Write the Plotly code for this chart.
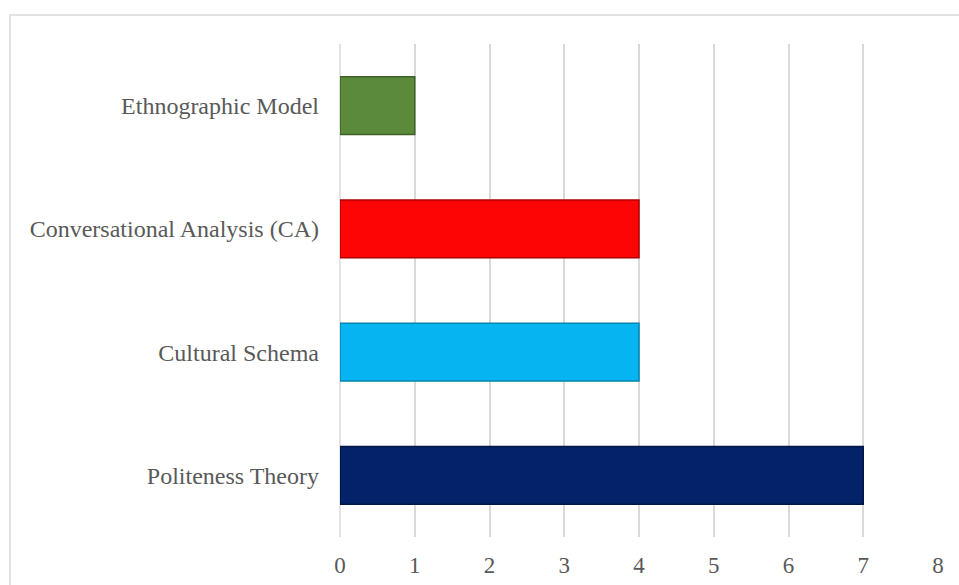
import plotly.graph_objects as go

categories = ["Politeness Theory", "Cultural Schema", "Conversational Analysis (CA)", "Ethnographic Model"]
values = [7, 4, 4, 1]
colors = ["#032268", "#05b4f0", "#fe0505", "#5b8a3a"]
edge_colors = ["#011546", "#0383b0", "#b00000", "#3d6126"]
x_ticks = [0, 1, 2, 3, 4, 5, 6, 7, 8]

fig = go.Figure(go.Bar(
    y=categories, x=values, orientation="h",
    marker=dict(color=colors, line=dict(color=edge_colors, width=1.5)),
    width=0.47,
))

L, R, T, B = 340, 938, 44, 537
W, H = 959, 585
pw, ph = R - L, B - T
def px(x): return (x - L) / pw
def py(y): return (B - y) / ph

fig.update_layout(
    width=W, height=H,
    margin=dict(l=L, r=W - R, t=T, b=H - B, autoexpand=False),
    paper_bgcolor="white", plot_bgcolor="white",
    showlegend=False,
    font=dict(family="Liberation Serif", size=24, color="#595959"),
    xaxis=dict(range=[0, 8], tickvals=x_ticks, showgrid=True, gridcolor="#d9d9d9",
               gridwidth=1.5, zeroline=False, showline=False, ticks="", automargin=False,
               ticklabelstandoff=12, tickfont=dict(size=23, color="#595959")),
    yaxis=dict(showgrid=False, zeroline=False, showline=False, ticks="", automargin=False,
               ticklabelstandoff=20, tickfont=dict(size=24, color="#595959")),
    shapes=[dict(type="line", xref="paper", yref="paper", x0=0, x1=0, y0=0, y1=1,
                 line=dict(color="#d9d9d9", width=1.5), layer="below"),
            dict(type="rect", xref="paper", yref="paper",
                 x0=px(10), x1=px(1000), y0=py(700), y1=py(15),
                 line=dict(color="#d9d9d9", width=1.5), fillcolor="rgba(0,0,0,0)")],
)

fig.write_html("out.html")
